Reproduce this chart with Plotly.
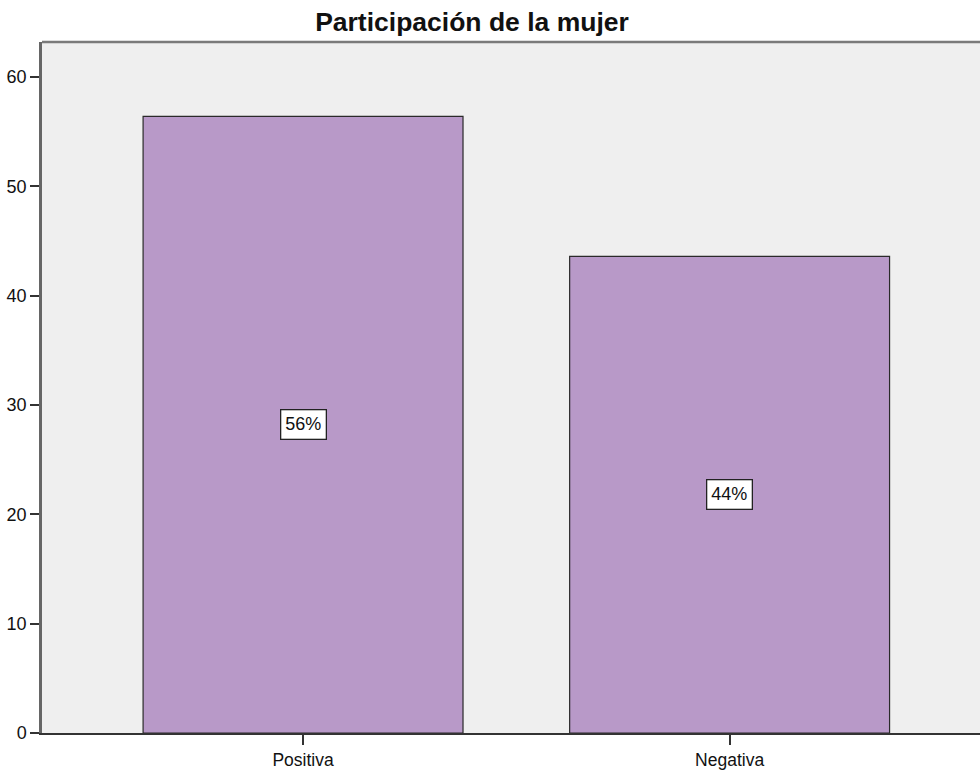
import plotly.graph_objects as go

# Participación de la mujer — porcentaje por categoría
categorias = ["Positiva", "Negativa"]
porcentajes = [56.4, 43.6]
etiquetas = [f"{round(v)}%" for v in porcentajes]
ticks_y = [0, 10, 20, 30, 40, 50, 60]

FONT = "Arial, Liberation Sans, sans-serif"
BAR_FILL = "#B899C8"
PLOT_BG = "#EFEFEF"

fig = go.Figure()
fig.add_trace(
    go.Bar(
        x=categorias,
        y=porcentajes,
        width=0.75,
        marker=dict(color=BAR_FILL, line=dict(color="#2a2a2a", width=1.2)),
        hoverinfo="x+y",
    )
)

# value boxes centred in each bar
for cat, val, txt in zip(categorias, porcentajes, etiquetas):
    fig.add_annotation(
        x=cat,
        y=val / 2,
        text=txt,
        showarrow=False,
        font=dict(family=FONT, size=18, color="#111"),
        bgcolor="white",
        bordercolor="#222",
        borderwidth=1.3,
        borderpad=4,
    )

# top frame line
fig.add_shape(
    type="line", xref="paper", yref="paper", x0=0, x1=1, y0=1, y1=1,
    line=dict(color="#7a7a7a", width=2.5),
)

fig.update_layout(
    width=980,
    height=770,
    margin=dict(l=42, r=0, t=42, b=34),
    paper_bgcolor="white",
    plot_bgcolor=PLOT_BG,
    showlegend=False,
    title=dict(
        text="<b>Participación de la mujer</b>",
        font=dict(family=FONT, size=26.5, color="#111"),
        xref="container", x=472 / 980, xanchor="center",
        yref="container", y=1 - 22 / 770, yanchor="middle",
    ),
    xaxis=dict(
        type="category",
        range=[-0.612, 1.587],
        showgrid=False,
        zeroline=False,
        showline=True,
        linecolor="#333",
        linewidth=2,
        ticks="outside",
        ticklen=10,
        tickwidth=2,
        tickcolor="#333",
        tickfont=dict(family=FONT, size=17.5, color="#111"),
    ),
    yaxis=dict(
        range=[0, 63.2],
        tickvals=ticks_y,
        showgrid=False,
        zeroline=False,
        showline=True,
        linecolor="#666",
        linewidth=2.5,
        ticks="outside",
        ticklen=9,
        tickwidth=2,
        tickcolor="#333",
        tickfont=dict(family=FONT, size=18, color="#111"),
    ),
    bargap=0.25,
)

fig.write_html("out.html")
